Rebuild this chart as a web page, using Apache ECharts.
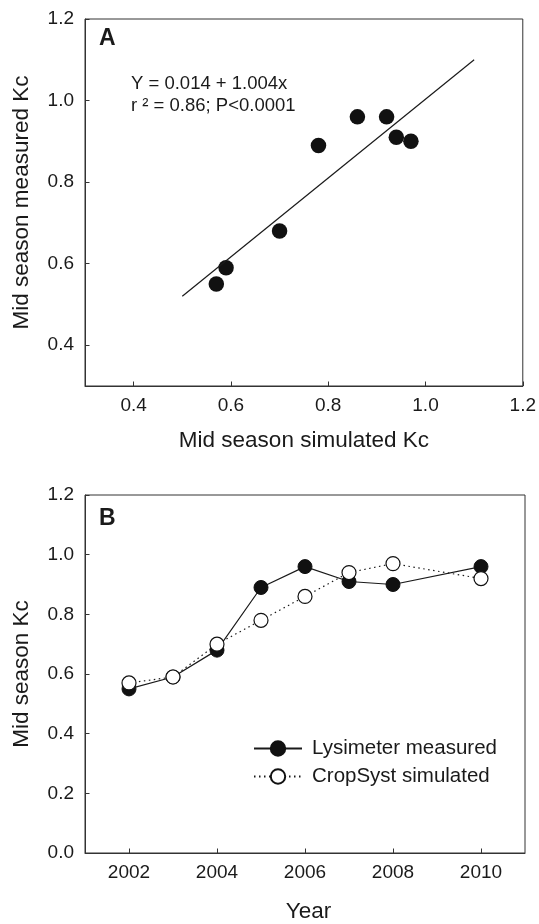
<!DOCTYPE html>
<html>
<head>
<meta charset="utf-8">
<script src="https://cdn.jsdelivr.net/npm/echarts@6/dist/echarts.min.js"></script>
<style>
  html, body { margin: 0; padding: 0; background: #fff; }
  #chart { width: 539px; height: 924px; }
</style>
</head>
<body>
<div id="chart"></div>
<script>
// panel A: simulated vs measured mid season Kc
var simKc = [0.57, 0.59, 0.70, 0.78, 0.86, 0.92, 0.94, 0.97];
var measKc = [0.55, 0.59, 0.68, 0.89, 0.96, 0.96, 0.91, 0.90];
var fitLine = [[0.5, 0.52], [1.1, 1.10]];   // regression line ends
var kcTicks = [0.4, 0.6, 0.8, 1.0, 1.2];

// panel B: Kc by year
var measYears = [2002, 2003, 2004, 2005, 2006, 2007, 2008, 2010];
var measByYear = [0.55, 0.59, 0.68, 0.89, 0.96, 0.91, 0.90, 0.96];
var simYears = [2002, 2003, 2004, 2005, 2006, 2007, 2008, 2010];
var simByYear = [0.57, 0.59, 0.70, 0.78, 0.86, 0.94, 0.97, 0.92];
var yearTicks = [2002, 2004, 2006, 2008, 2010];

var FONT = '"Liberation Sans", Arial, Helvetica, sans-serif';
var INK = '#1a1a1a';

function pairs(xs, ys) {
    var d = [];
    for (var i = 0; i < xs.length; i++) {
        d.push([xs[i], ys[i]]);
    }
    return d;
}

function fmt1(v) { return v.toFixed(1); }

var baseAxis = {
    axisLine: { show: true, lineStyle: { color: '#333', width: 1 } },
    axisTick: { show: true, inside: true, length: 4.5, lineStyle: { color: '#333' } },
    splitLine: { show: false },
    nameLocation: 'middle',
    nameTextStyle: { fontFamily: FONT, fontSize: 22.5, color: INK }
};

function axis(extra) {
    return echarts.util.merge(echarts.util.clone(baseAxis), extra, true);
}

var myChart = echarts.init(document.getElementById('chart'));

var option = {
    animation: false,
    backgroundColor: '#fff',
    textStyle: { fontFamily: FONT },
    grid: [
        { left: 85, top: 19, width: 440, height: 367, show: true, borderColor: '#333', borderWidth: 1 },
        { left: 85, top: 495, width: 440, height: 367, show: true, borderColor: '#333', borderWidth: 1 }
    ],
    xAxis: [
        axis({
            gridIndex: 0, type: 'value', min: 0.3, max: 1.2,
            name: 'Mid season simulated Kc', nameGap: 43,
            axisTick: { customValues: kcTicks },
            axisLabel: { customValues: kcTicks, formatter: fmt1, fontSize: 19, color: INK, margin: 10, fontFamily: FONT }
        }),
        axis({
            gridIndex: 1, type: 'value', min: 2001, max: 2011,
            name: 'Year', nameGap: 47,
            nameTextStyle: { padding: [0, 0, 0, 7] },
            axisTick: { customValues: yearTicks },
            axisLabel: { customValues: yearTicks, formatter: function (v) { return String(v); }, fontSize: 19, color: INK, margin: 10, fontFamily: FONT }
        })
    ],
    yAxis: [
        axis({
            gridIndex: 0, type: 'value', min: 0.3, max: 1.2,
            name: 'Mid season measured Kc', nameGap: 52,
            axisTick: { customValues: kcTicks },
            axisLabel: { customValues: kcTicks, formatter: fmt1, fontSize: 19, color: INK, margin: 11, fontFamily: FONT }
        }),
        axis({
            gridIndex: 1, type: 'value', min: 0, max: 1.2, interval: 0.2,
            name: 'Mid season Kc', nameGap: 52,
            axisLabel: { formatter: fmt1, fontSize: 19, color: INK, margin: 11, fontFamily: FONT }
        })
    ],
    legend: {
        orient: 'vertical',
        left: 253,
        top: 738,
        itemWidth: 48,
        itemHeight: 18,
        itemGap: 7,
        padding: 0,
        data: ['Lysimeter measured', 'CropSyst simulated'],
        textStyle: { fontFamily: FONT, fontSize: 20.5, color: INK, padding: [0, 0, 0, 5] }
    },
    graphic: [
        { type: 'text', left: 99, top: 27, style: { text: 'A', fontFamily: FONT, fontSize: 23, fontWeight: 'bold', fill: INK } },
        { type: 'text', left: 99, top: 507, style: { text: 'B', fontFamily: FONT, fontSize: 23, fontWeight: 'bold', fill: INK } },
        { type: 'text', left: 131, top: 74, style: { text: 'Y = 0.014 + 1.004x', fontFamily: FONT, fontSize: 18.5, fill: INK } },
        { type: 'text', left: 131, top: 96, style: { text: 'r \u00b2 = 0.86; P<0.0001', fontFamily: FONT, fontSize: 18.5, fill: INK } }
    ],
    series: [
        {
            name: 'fit',
            type: 'line',
            xAxisIndex: 0, yAxisIndex: 0,
            data: fitLine,
            symbol: 'none',
            silent: true,
            lineStyle: { color: INK, width: 1.2 }
        },
        {
            name: 'A points',
            type: 'scatter',
            xAxisIndex: 0, yAxisIndex: 0,
            data: pairs(simKc, measKc),
            symbol: 'circle',
            symbolSize: 15.5,
            itemStyle: { color: '#111', opacity: 1 }
        },
        {
            name: 'Lysimeter measured',
            type: 'line',
            xAxisIndex: 1, yAxisIndex: 1,
            data: pairs(measYears, measByYear),
            symbol: 'circle',
            symbolSize: 14,
            lineStyle: { color: INK, width: 1.2 },
            itemStyle: { color: '#111', borderColor: '#111', borderWidth: 1, opacity: 1 }
        },
        {
            name: 'CropSyst simulated',
            type: 'line',
            xAxisIndex: 1, yAxisIndex: 1,
            data: pairs(simYears, simByYear),
            symbol: 'circle',
            symbolSize: 14,
            lineStyle: { color: INK, width: 1.2, type: [1.5, 3.5] },
            itemStyle: { color: '#fff', borderColor: '#111', borderWidth: 1.2, opacity: 1 }
        }
    ]
};

myChart.setOption(option);
</script>
</body>
</html>
